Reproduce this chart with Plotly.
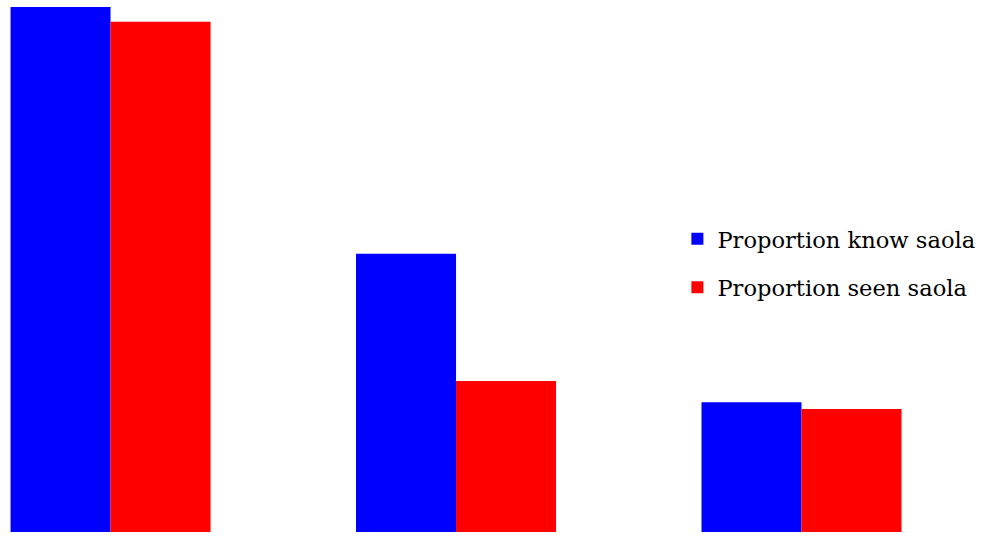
import plotly.graph_objects as go

groups = ["Group 1", "Group 2", "Group 3"]
know_saola = [0.987, 0.523, 0.244]
seen_saola = [0.959, 0.284, 0.231]

fig = go.Figure()
fig.add_trace(go.Bar(x=[0, 1, 2], y=know_saola, name="Proportion know saola",
                     marker=dict(color="#0000FF", line=dict(width=0)),
                     legendgroup="a"))
fig.add_trace(go.Bar(x=[0, 1, 2], y=seen_saola, name="Proportion seen saola",
                     marker=dict(color="#FF0000", line=dict(width=0)),
                     legendgroup="b"))

fig.update_layout(
    width=986, height=538,
    margin=dict(l=0, r=0, t=0, b=6, autoexpand=False),
    paper_bgcolor="white", plot_bgcolor="white",
    barmode="group", bargap=0.421, bargroupgap=0,
    xaxis=dict(range=[-0.32, 2.534], showticklabels=False, showgrid=False,
               zeroline=False, showline=False, ticks=""),
    yaxis=dict(range=[0, 1], showticklabels=False, showgrid=False,
               zeroline=False, showline=False, ticks=""),
    showlegend=True,
    legend=dict(x=0.687, y=0.591, xanchor="left", yanchor="top",
                font=dict(family="DejaVu Serif", size=22.6, color="black"),
                traceorder="grouped", tracegroupgap=16,
                bgcolor="rgba(0,0,0,0)", itemwidth=30),
)

fig.write_html("out.html")
